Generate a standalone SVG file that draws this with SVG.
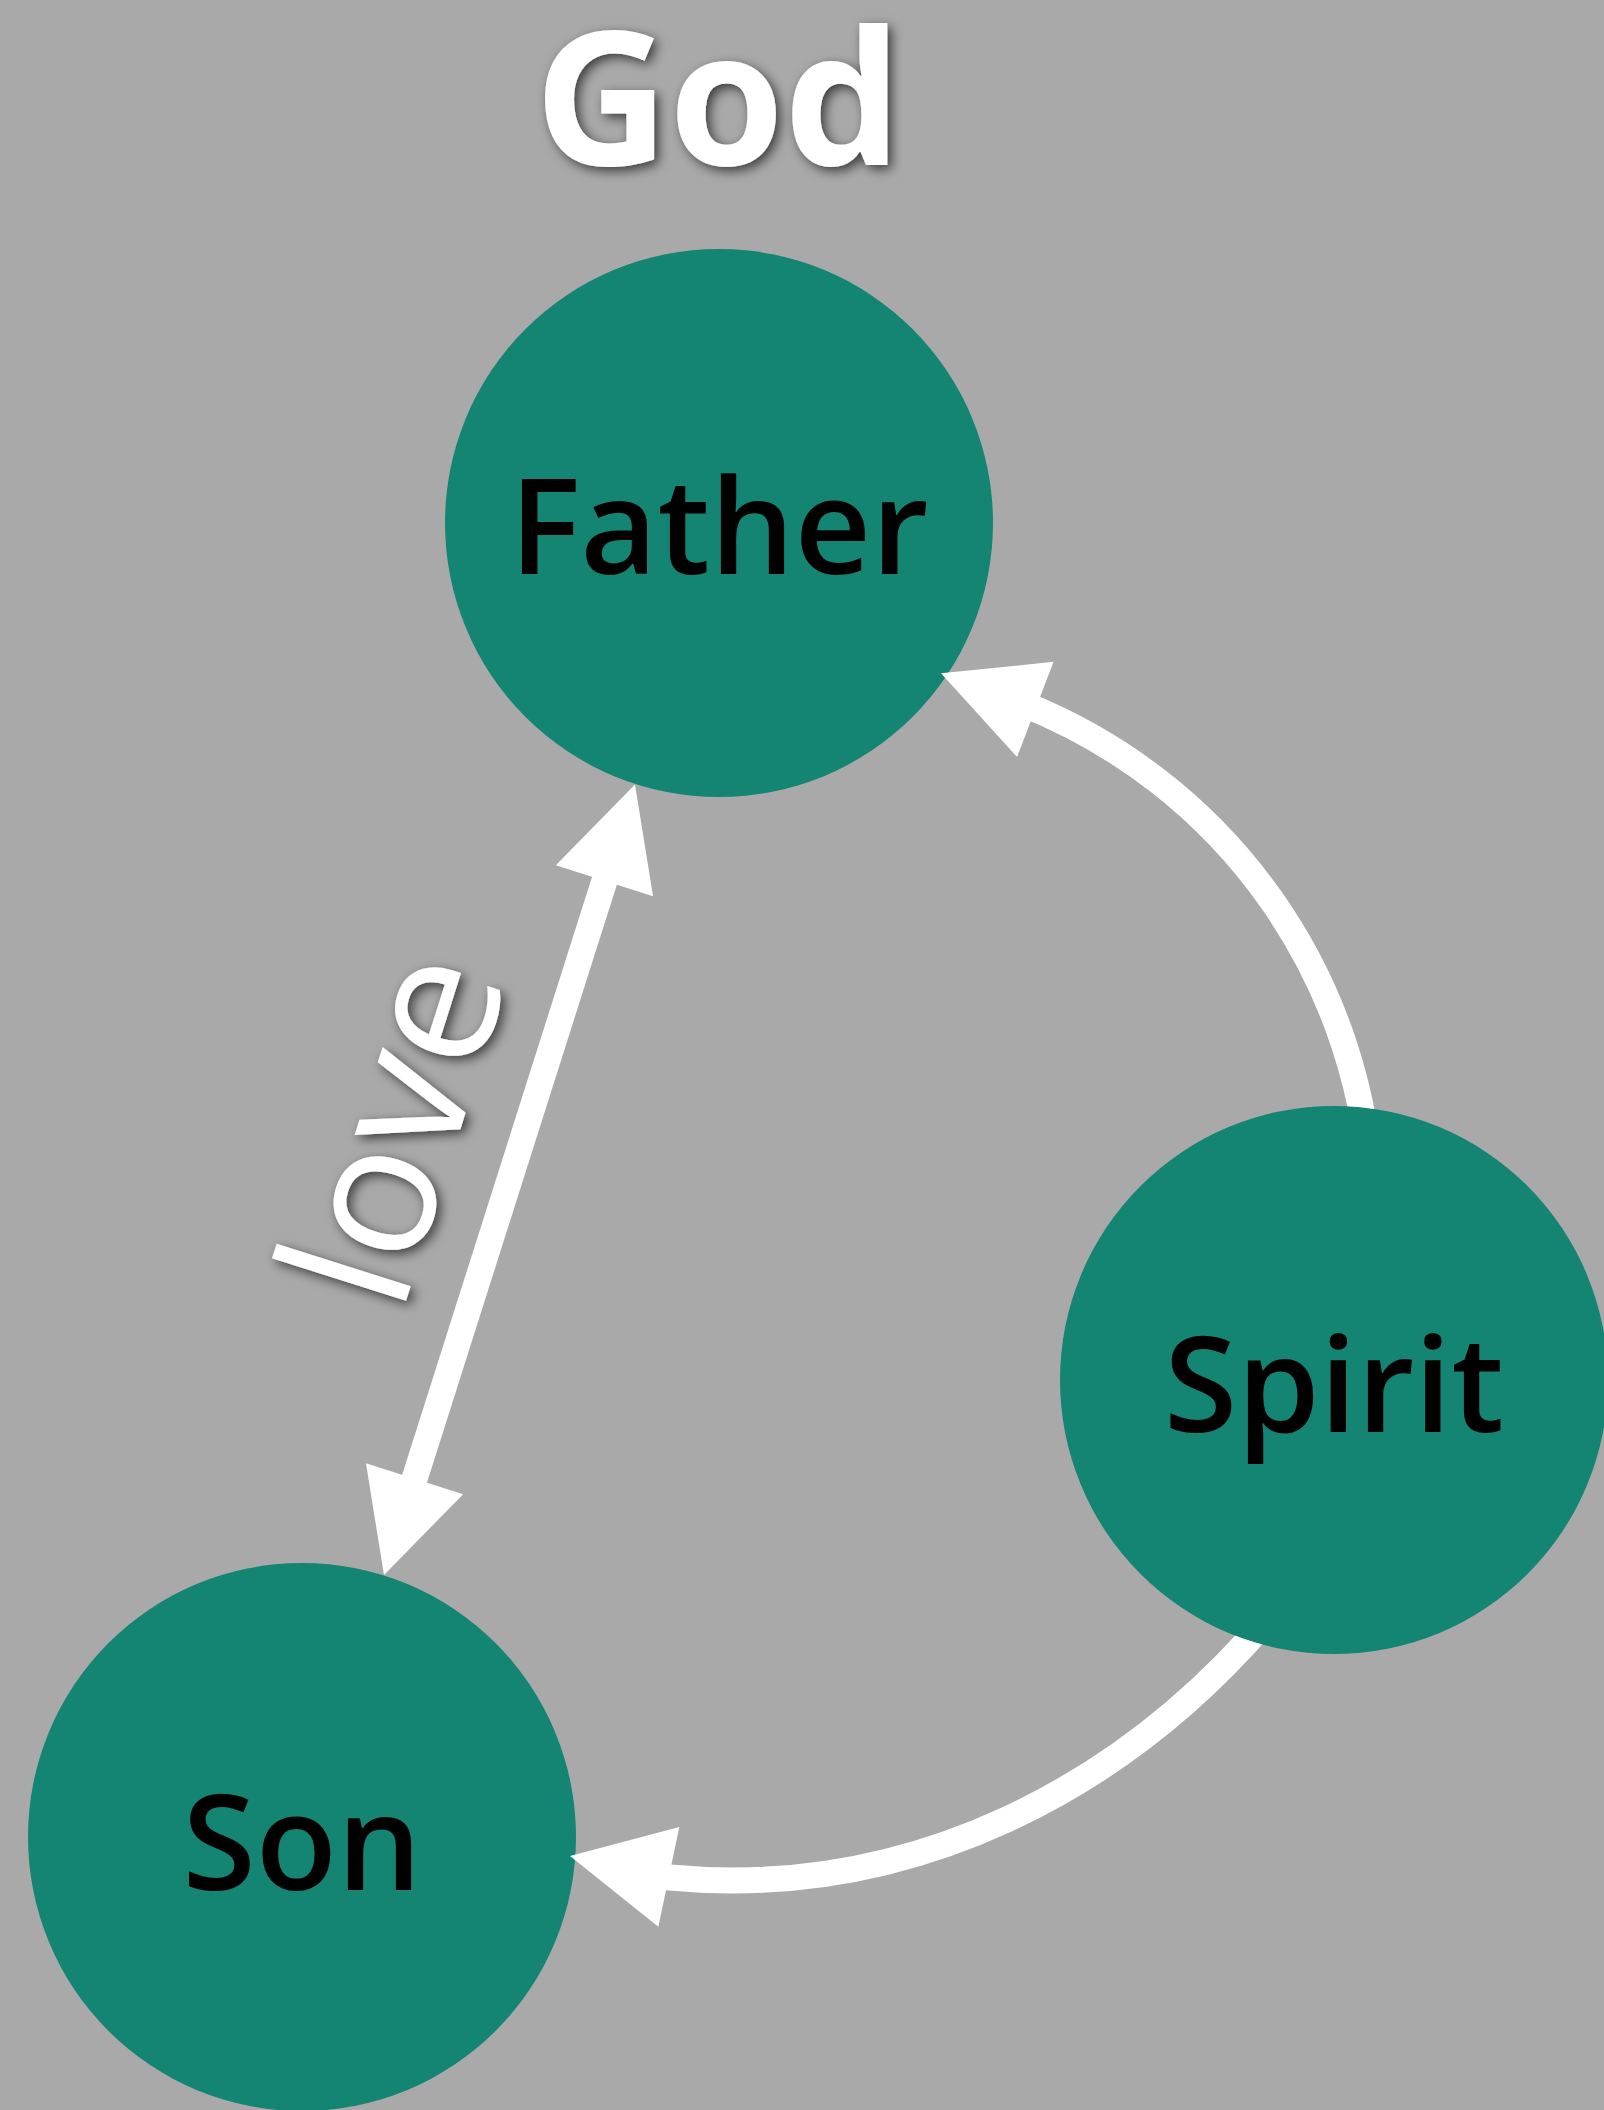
<svg xmlns="http://www.w3.org/2000/svg" xmlns:xlink="http://www.w3.org/1999/xlink" width="1604" height="2110" viewBox="0 0 1604 2110">
<defs>
<style>
.node circle{fill:#138572}
.node text{font-family:'Open Sans','Noto Sans','DejaVu Sans',sans-serif;font-weight:600;font-size:133px;fill:#000;text-anchor:middle}
.edge{fill:none;stroke:#fff;stroke-width:26}
.head{fill:#fff}
.title{font-family:'Open Sans','Noto Sans',sans-serif;font-weight:700;font-size:186px;fill:#fff;text-anchor:middle}
.elabel{font-family:'Open Sans','Noto Sans',sans-serif;font-weight:400;font-size:185px;fill:#fff;text-anchor:middle}
</style>
<filter id="shadow" filterUnits="userSpaceOnUse" x="0" y="0" width="1604" height="2110">
<feDropShadow dx="4" dy="4" stdDeviation="6" flood-color="#000" flood-opacity="0.65"/>
</filter>
<mask id="outside-nodes" maskUnits="userSpaceOnUse" x="0" y="0" width="1604" height="2110">
<rect x="0" y="0" width="1604" height="2110" fill="#fff"/>
<circle cx="719" cy="523" r="274" fill="#000"/>
<circle cx="1334" cy="1380" r="274" fill="#000"/>
<circle cx="302" cy="1837" r="274" fill="#000"/>
</mask>
<path id="ah" d="M0,0 L-101,-51 L-101,51 Z"/>
</defs>
<rect x="0" y="0" width="1604" height="2110" fill="#a9a9a9"/>
<g id="node-father" class="node">
<circle cx="719" cy="523" r="274"/>
<text x="719" y="574">Father</text>
</g>
<g id="node-spirit" class="node">
<circle cx="1334" cy="1380" r="274"/>
<text x="1334" y="1432">Spirit</text>
</g>
<g id="node-son" class="node">
<circle cx="302" cy="1837" r="274"/>
<text x="302" y="1890">Son</text>
</g>
<g id="connectors">
<g mask="url(#outside-nodes)">
<line class="edge" x1="409.7" y1="1494" x2="609.3" y2="865.5"/>
<path class="edge" d="M1371.7,1200 A553,553 0 0,0 1022.8,703.9"/>
<path class="edge" d="M1275,1610 C1125,1790 910,1900 669.6,1877.5 L654.7,1876.2"/>
</g>
<use xlink:href="#ah" href="#ah" class="head" transform="translate(635,784.5) rotate(-72.39)"/>
<use xlink:href="#ah" href="#ah" class="head" transform="translate(384,1575) rotate(107.61)"/>
<use xlink:href="#ah" href="#ah" class="head" transform="translate(941,673.3) rotate(-159.03)"/>
<use xlink:href="#ah" href="#ah" class="head" transform="translate(570,1856) rotate(-168.1)"/>
</g>
<g id="label-love" filter="url(#shadow)">
<text class="elabel" x="454.8" y="1146.8" transform="rotate(-72.39 454.8 1146.8)">love</text>
</g>
<g id="title" filter="url(#shadow)">
<text class="title" x="718" y="165">God</text>
</g>
</svg>
